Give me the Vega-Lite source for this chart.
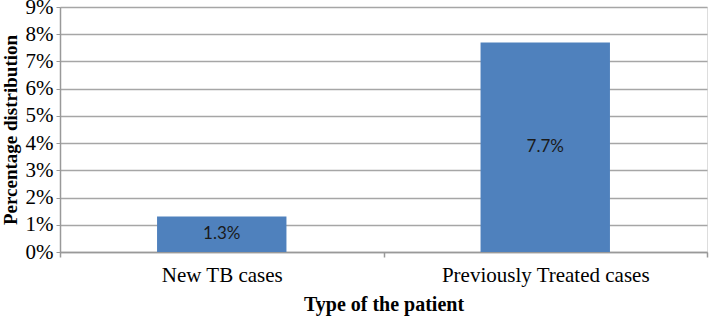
{
  "$schema": "https://vega.github.io/schema/vega-lite/v6.json",
  "autosize": "none",
  "width": 647,
  "height": 245,
  "padding": {"left": 60, "top": 7, "right": 2, "bottom": 65},
  "background": "white",
  "data": {"values": [
    {"type": "New TB cases", "value": 0.013, "label": "1.3%"},
    {"type": "Previously Treated cases", "value": 0.077, "label": "7.7%"}
  ]},
  "encoding": {
    "x": {"field": "type", "type": "nominal", "sort": null,
      "scale": {"paddingInner": 0, "paddingOuter": 0},
      "axis": {"title": "Type of the patient", "labelAngle": 0, "tickBand": "extent", "labelLimit": 500,
        "labelFont": "Liberation Serif", "labelFontSize": 21, "labelColor": "black",
        "titleFont": "Liberation Serif", "titleFontSize": 20, "titleFontWeight": "bold", "titleColor": "black",
        "labelPadding": 7, "titlePadding": 9, "tickSize": 5, "tickColor": "#999999", "domainColor": "#999999", "domainWidth": 1.5, "tickWidth": 1.5, "grid": false}}
  },
  "layer": [
    {
      "mark": {"type": "bar", "color": "#4F81BD", "width": {"band": 0.4}},
      "encoding": {
        "y": {"field": "value", "type": "quantitative", "title": "Percentage distribution",
          "scale": {"domain": [0, 0.09], "nice": false},
          "axis": {"title": "Percentage distribution", "format": ".0%", "values": [0,0.01,0.02,0.03,0.04,0.05,0.06,0.07,0.08,0.09],
            "labelOverlap": false, "labelFlush": false,
            "labelFont": "Liberation Serif", "labelFontSize": 21, "labelColor": "black",
            "titleFont": "Liberation Serif", "titleFontSize": 19, "titleFontWeight": "bold", "titleColor": "black",
            "titlePadding": 5, "labelPadding": 3, "tickSize": 4, "tickColor": "#999999",
            "domainColor": "#999999", "domainWidth": 1.5, "gridColor": "#a6a6a6", "gridWidth": 1.5}}
      }
    },
    {
      "transform": [{"calculate": "datum.value / 2", "as": "mid"}],
      "mark": {"type": "text", "font": "Lato", "fontSize": 17, "color": "#1a1a1a", "baseline": "middle"},
      "encoding": {
        "y": {"field": "mid", "type": "quantitative", "title": "Percentage distribution",
          "scale": {"domain": [0, 0.09], "nice": false},
          "axis": {"title": "Percentage distribution", "format": ".0%", "values": [0,0.01,0.02,0.03,0.04,0.05,0.06,0.07,0.08,0.09],
            "labelOverlap": false, "labelFlush": false,
            "labelFont": "Liberation Serif", "labelFontSize": 21, "labelColor": "black",
            "titleFont": "Liberation Serif", "titleFontSize": 19, "titleFontWeight": "bold", "titleColor": "black",
            "titlePadding": 5, "labelPadding": 3, "tickSize": 4, "tickColor": "#999999",
            "domainColor": "#999999", "domainWidth": 1.5, "gridColor": "#a6a6a6", "gridWidth": 1.5}},
        "text": {"field": "label"}
      }
    }
  ]
}
